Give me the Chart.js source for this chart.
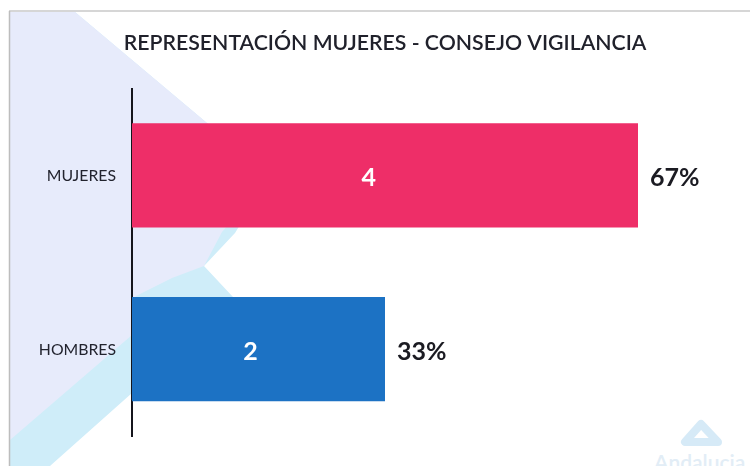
<!DOCTYPE html>
<html>
<head>
<meta charset="utf-8">
<script src="https://cdn.jsdelivr.net/npm/chart.js@4"></script>
<style>
html,body{margin:0;padding:0;background:#fff;width:750px;height:466px;overflow:hidden}
#wrap{position:relative;width:750px;height:466px;overflow:hidden}
#bg{position:absolute;left:0;top:0}
#c{position:absolute;left:0;top:0}
#brand{position:absolute;left:654px;top:451px;font:600 21px Lato,sans-serif;color:#e2edf6;white-space:nowrap;line-height:22px}
</style>
</head>
<body>
<div id="wrap">
<svg id="bg" width="750" height="466" viewBox="0 0 750 466">
  <polygon points="10,12 75,12 270,176 235,233 204,266 233,297 290,350 132,393 50,466 10,466" fill="#cfedf9"/>
  <polygon points="10,12 75,12 270,176 222,232 204,266 172,278 136,296 132,335 10,440" fill="#e7ebfb"/>
  <line x1="9" y1="11" x2="750" y2="11" stroke="#c9c9c9" stroke-width="1.5"/>
  <line x1="9.5" y1="11" x2="9.5" y2="466" stroke="#bdbdbd" stroke-width="1.5"/>
  <polygon points="701,424 685,442 718,442" fill="none" stroke="#d6eaf7" stroke-width="8" stroke-linejoin="round"/>
</svg>
<div id="brand">Andalucia</div>
<canvas id="c" width="750" height="466"></canvas>
</div>
<script>
const categories = ["MUJERES", "HOMBRES"];
const counts = [4, 2];
const percentLabels = ["67%", "33%"];
const barColors = ["#ee2e68", "#1c72c4"];
const chartTitle = "REPRESENTACIÓN MUJERES - CONSEJO VIGILANCIA";

const barLabels = {
  id: "barLabels",
  afterDatasetsDraw(chart) {
    const ctx = chart.ctx;
    const meta = chart.getDatasetMeta(0);
    ctx.save();
    ctx.textBaseline = "middle";
    meta.data.forEach((bar, i) => {
      ctx.font = "700 25px Lato, sans-serif";
      ctx.fillStyle = "#ffffff";
      ctx.textAlign = "center";
      ctx.fillText(String(counts[i]), bar.base + (bar.x - bar.base) * 0.468, bar.y + 3);
      ctx.fillStyle = "#1b1b22";
      ctx.textAlign = "left";
      ctx.fillText(percentLabels[i], bar.x + 12, bar.y + 2.5);
    });
    ctx.restore();
  }
};

new Chart(document.getElementById("c"), {
  type: "bar",
  data: {
    labels: categories,
    datasets: [{
      data: counts,
      backgroundColor: barColors,
      borderWidth: 0,
      barPercentage: 0.6,
      categoryPercentage: 1
    }]
  },
  options: {
    indexAxis: "y",
    responsive: false,
    animation: false,
    layout: { padding: { top: 0, right: 10.8, bottom: 30, left: 31 } },
    plugins: {
      legend: { display: false },
      tooltip: { enabled: false },
      title: {
        display: true,
        text: chartTitle,
        color: "#20212b",
        font: { family: "Lato, sans-serif", size: 21.25, weight: "600" },
        padding: { top: 30, bottom: 33 }
      }
    },
    scales: {
      x: { min: 0, max: 4.8, display: false, grid: { display: false } },
      y: {
        afterFit(scale) { scale.width = 101; },
        grid: { display: false, drawTicks: false },
        border: { display: true, color: "#15151c", width: 2 },
        ticks: {
          color: "#22232e",
          padding: 16,
          labelOffset: 1,
          font: { family: "Lato, sans-serif", size: 15.8 }
        }
      }
    }
  },
  plugins: [barLabels]
});
</script>
</body>
</html>
